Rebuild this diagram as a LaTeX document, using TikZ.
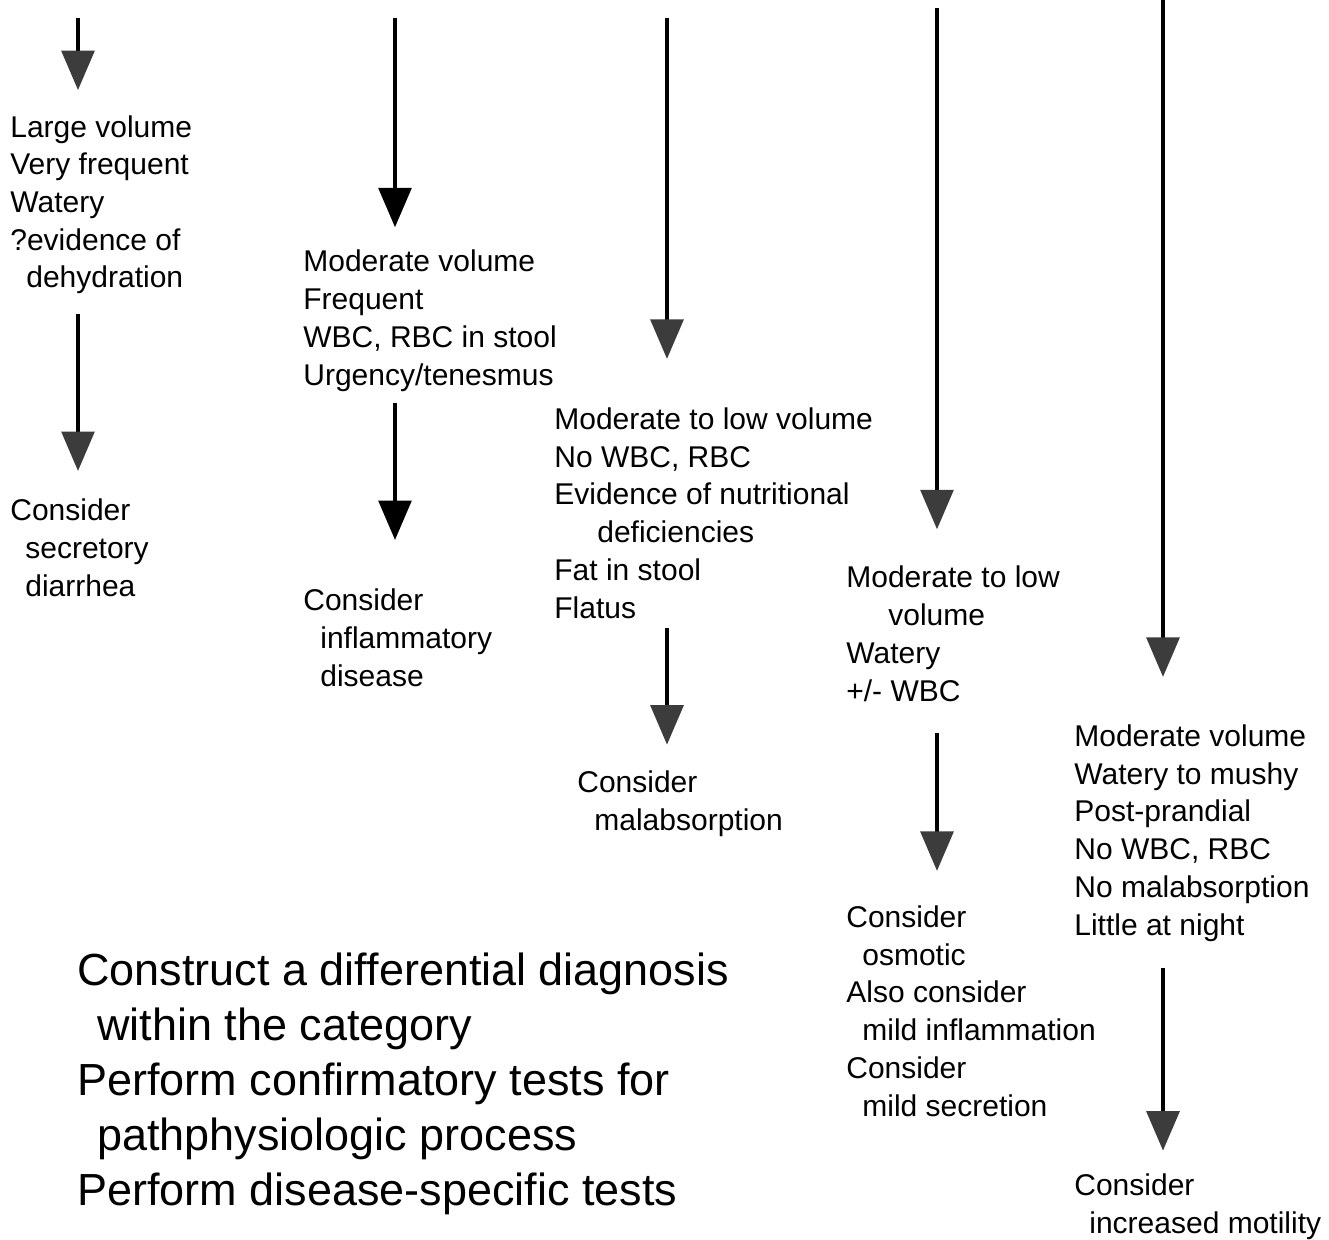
\documentclass[tikz,border=0pt]{standalone}
\usepackage{fontspec}
\setmainfont{Liberation Sans}
\usetikzlibrary{arrows.meta}
\definecolor{headgray}{RGB}{60,60,60}
\tikzset{note/.style={anchor=base west,align=left,inner sep=0pt,font=\fontsize{17.08pt}{21.45pt}\selectfont}}
\tikzset{bignote/.style={anchor=base west,align=left,inner sep=0pt,font=\fontsize{25.6pt}{31.3pt}\selectfont}}
\tikzset{arrow/.style={line width=2.6pt,-{Triangle[width=18.5pt,length=22.5pt,color=headgray]}}}
\tikzset{blackarrow/.style={line width=2.6pt,-{Triangle[width=18.5pt,length=22.5pt]}}}

\begin{document}
\begin{tikzpicture}[x=0.02cm,y=-0.02cm]
    \useasboundingbox (0,0) rectangle (1329,1240);

    \coordinate (top1) at (78,18);
    \coordinate (top2) at (395,18);
    \coordinate (top3) at (667,18);
    \coordinate (top4) at (937,8);
    \coordinate (top5) at (1163,0);

    \node[note] (vol1) at (10,288) {Large volume\\Very frequent\\Watery\\?evidence of\\\hspace*{0.32cm}dehydration};
    \node[note] (sec) at (10,596) {Consider\\\hspace*{0.3cm}secretory\\\hspace*{0.3cm}diarrhea};

    \node[note] (vol2) at (303,385) {Moderate volume\\Frequent\\WBC, RBC in stool\\Urgency/tenesmus};
    \node[note] (infl) at (303,686) {Consider\\\hspace*{0.34cm}inflammatory\\\hspace*{0.34cm}disease};

    \node[note] (vol3) at (554,618) {Moderate to low volume\\No WBC, RBC\\Evidence of nutritional\\\hspace*{0.86cm}deficiencies\\Fat in stool\\Flatus};
    \node[note] (malab) at (577,830) {Consider\\\hspace*{0.34cm}malabsorption};

    \node[note] (vol4) at (846,701) {Moderate to low\\\hspace*{0.84cm}volume\\Watery\\+/- WBC};
    \node[note] (osm) at (846,1116) {Consider\\\hspace*{0.32cm}osmotic\\Also consider\\\hspace*{0.32cm}mild inflammation\\Consider\\\hspace*{0.32cm}mild secretion};

    \node[note] (vol5) at (1074,935) {Moderate volume\\Watery to mushy\\Post-prandial\\No WBC, RBC\\No malabsorption\\Little at night};
    \node[note] (mot) at (1074,1233) {Consider\\\hspace*{0.3cm}increased motility};

    \node[bignote] (steps) at (77,1205) {Construct a differential diagnosis\\\hspace*{0.4cm}within the category\\Perform confirmatory tests for\\\hspace*{0.4cm}pathphysiologic process\\Perform disease-specific tests};

    \draw[arrow,shorten >=0.5cm] (top1) -- (top1 |- vol1.north);
    \draw[blackarrow,shorten >=0.45cm] (top2) -- (top2 |- vol2.north);
    \draw[arrow,shorten >=0.97cm] (top3) -- (top3 |- vol3.north);
    \draw[arrow,shorten >=0.73cm] (top4) -- (top4 |- vol4.north);
    \draw[arrow,shorten >=0.95cm] (top5) -- (top5 |- vol5.north);

    \draw[arrow,shorten <=0.38cm,shorten >=0.55cm] (top1 |- vol1.south) -- (top1 |- sec.north);
    \draw[blackarrow,shorten <=0.23cm,shorten >=0.97cm] (top2 |- vol2.south) -- (top2 |- infl.north);
    \draw[arrow,shorten <=0.19cm,shorten >=0.51cm] (top3 |- vol3.south) -- (top3 |- malab.north);
    \draw[arrow,shorten <=0.63cm,shorten >=0.69cm] (top4 |- vol4.south) -- (top4 |- osm.north);
    \draw[arrow,shorten <=0.52cm,shorten >=0.45cm] (top5 |- vol5.south) -- (top5 |- mot.north);
\end{tikzpicture}
\end{document}
